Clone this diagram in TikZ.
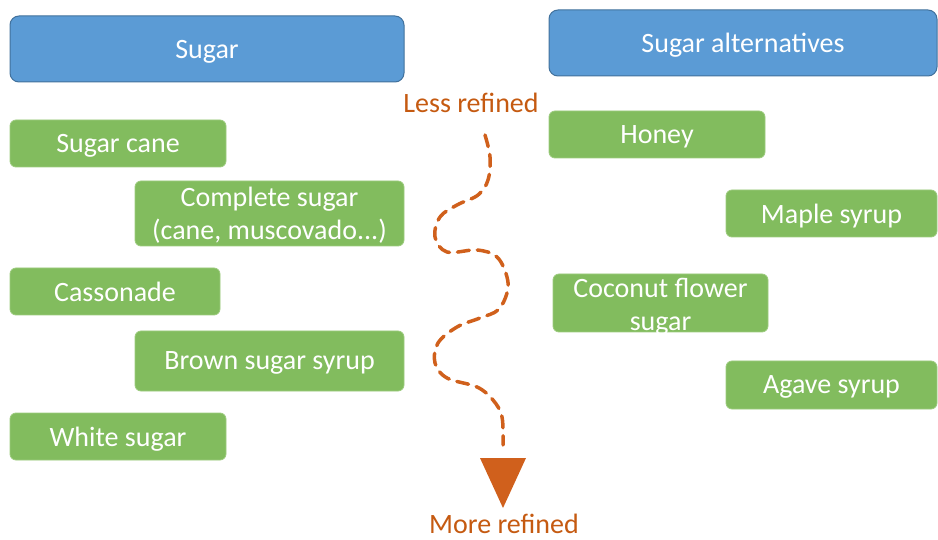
\documentclass[tikz,border=0pt]{standalone}
\usepackage{fontspec}
\setmainfont{Carlito}
\definecolor{hblue}{HTML}{5B9BD5}
\definecolor{hblueb}{HTML}{41719C}
\definecolor{igreen}{HTML}{82BC5E}
\definecolor{igreenb}{HTML}{9CCB7E}
\definecolor{otext}{HTML}{C55A11}
\definecolor{oarrow}{HTML}{D0601C}
\begin{document}
\begin{tikzpicture}[x=1pt,y=-1pt,
  every node/.style={font=\fontsize{28}{33}\selectfont, inner sep=0pt, outer sep=0pt},
  header/.style={draw=hblueb, line width=1pt, fill=hblue, rounded corners=9pt, text=white, text depth=0pt},
  item/.style={draw=igreenb, line width=0.8pt, fill=igreen, rounded corners=6pt, text=white, align=center, text depth=0pt},
  lbl/.style={text=otext},
  wave/.style={draw=oarrow, line width=3.5pt, dash pattern=on 12pt off 8pt, line cap=round}]
\useasboundingbox (0,0) rectangle (938,540);
\node[header, minimum width=394pt, minimum height=66pt] (sugar) at (207,49) {Sugar};
\node[header, minimum width=388pt, minimum height=66pt] (alt) at (743,43) {Sugar alternatives};
\node[item, minimum width=216pt, minimum height=47pt] (cane) at (118,143.5) {Sugar cane};
\node[item, minimum width=269pt, minimum height=65pt] (complete) at (269.5,213.5) {Complete sugar\\(cane, muscovado...)};
\node[item, minimum width=210pt, minimum height=47pt] (casso) at (115,291.5) {Cassonade};
\node[item, minimum width=269pt, minimum height=60pt] (brown) at (269.5,361) {Brown sugar syrup};
\node[item, minimum width=216pt, minimum height=47pt] (white) at (118,436.5) {White sugar};
\node[item, minimum width=216pt, minimum height=47pt] (honey) at (657,134.5) {Honey};
\node[item, minimum width=211pt, minimum height=47pt] (maple) at (831.5,213.5) {Maple syrup};
\node[item, minimum width=215pt, minimum height=58pt] (coco) at (660.5,303) {};
\node[text=white, align=center, text depth=0pt] (cocot) at (660.5,304) {Coconut flower\\sugar};
\node[item, minimum width=211pt, minimum height=48pt] (agave) at (831.5,385) {Agave syrup};
\node[lbl] (less) at (471,103) {Less refined};
\node[lbl] (more) at (504,524) {More refined};
\coordinate (ws) at (485,135);
\coordinate (we) at (503,445);
\draw[wave] plot[smooth, tension=0.6] coordinates {(ws) (490,157) (488,180) (478,195) (457,205) (440,217) (435,237) (447,252) (477,250) (497,257) (507,277) (507,293) (498,310) (480,318) (457,327) (438,343) (435,363) (447,378) (477,387) (493,400) (502,417) (we)};
\coordinate (tl) at (480,458);
\coordinate (tr) at (526,458);
\coordinate (tp) at (503,508);
\fill[oarrow] (tl) -- (tr) -- (tp) -- cycle;
\end{tikzpicture}
\end{document}
